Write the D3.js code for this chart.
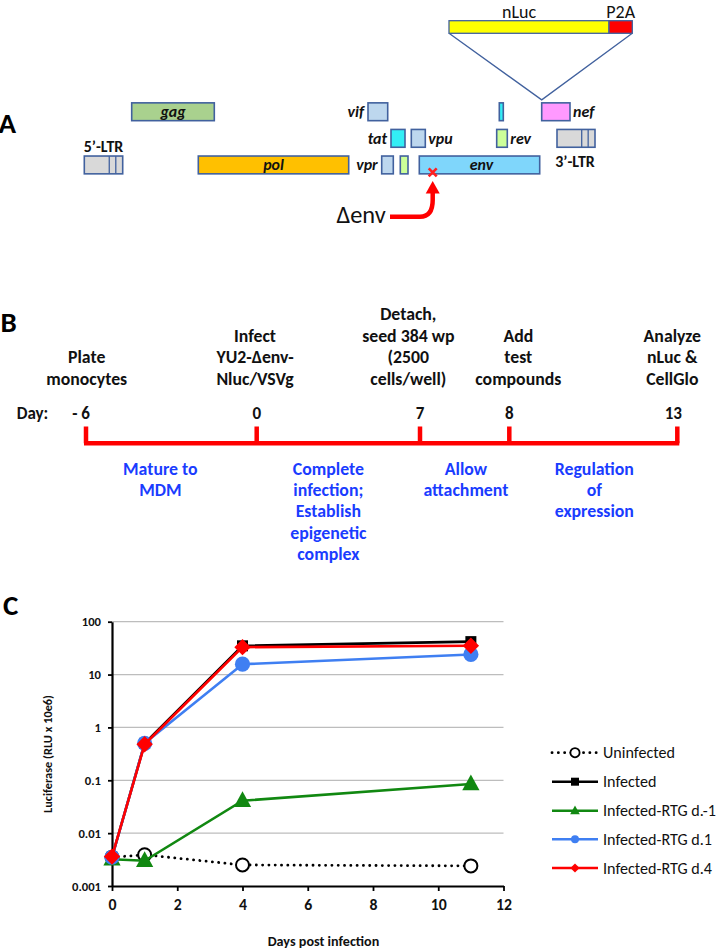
<!DOCTYPE html>
<html>
<head>
<meta charset="utf-8">
<script src="https://cdn.jsdelivr.net/npm/d3@7"></script>
<style>
html,body{margin:0;padding:0;background:#fff;}
svg{display:block;}
text{font-family:Carlito,Lato,"Open Sans",sans-serif;}
</style>
</head>
<body>
<svg id="fig" width="717" height="949"></svg>
<script>
// ---------------- DATA ----------------
// Panel A: schematic genome (schematic units)
const geneNames  = ["5\u2019-LTR","gag","pol","vif","vpr","tat","rev","vpu","env","tat2","rev2","nef","3\u2019-LTR"];
const geneStart  = [0, 47.4, 114, 283.7, 297.4, 306.7, 316, 327, 335, 415, 412.4, 457.4, 472.7];
const geneEnd    = [38.4, 130, 264.4, 303.4, 309, 320.7, 323.7, 341, 455.4, 419, 423, 485.7, 510.7];
const geneFrame  = [2, 0, 2, 0, 2, 1, 2, 1, 2, 0, 1, 0, 1];
const geneKind   = ["ltr","gag","pol","acc","acc","tat","rev","acc","env","tat","rev","nef","ltr"];
const insertNames = ["nLuc","P2A"];
const insertStart = [364.7, 524.7];
const insertEnd   = [524.7, 548];
// Panel B: timeline
const timelineDays   = [-6, 0, 7, 8, 13];
const timelineLabels = ["- 6","0","7","8","13"];
const eventText = [["Plate","monocytes"],["Infect","YU2-\u0394env-","Nluc/VSVg"],["Detach,","seed 384 wp","(2500","cells/well)"],["Add","test","compounds"],["Analyze","nLuc &","CellGlo"]];
const phaseFrom = [-6, 0, 7, 8];
const phaseTo   = [0, 7, 8, 13];
const phaseText = [["Mature to","MDM"],["Complete","infection;","Establish","epigenetic","complex"],["Allow","attachment"],["Regulation","of","expression"]];
// Panel C: luciferase time course
const days        = [0, 1, 4, 11];
const seriesNames = ["Uninfected","Infected","Infected-RTG d.-1","Infected-RTG d.1","Infected-RTG d.4"];
const uninfected  = [0.0035, 0.0039, 0.0025, 0.0024];
const infected    = [0.0035, 0.5, 35, 42];
const rtgDm1      = [0.0032, 0.003, 0.041, 0.085];
const rtgD1       = [0.0035, 0.5, 15.7, 24];
const rtgD4       = [0.0036, 0.48, 33, 35];
const yTicks = [0.001, 0.01, 0.1, 1, 10, 100];
const xTicks = [0, 2, 4, 6, 8, 10, 12];

// ---------------- DRAW ----------------
const svg = d3.select("#fig");
svg.append("rect").attr("width",717).attr("height",949).attr("fill","#fff");
const FONT = "Carlito,Lato,'Open Sans',sans-serif";
const boxStroke = "#41619e";

// font size that makes a reference string reach its width in the reference picture
function fit(str, target, weight, style){
  const t = svg.append("text").attr("font-family",FONT).attr("font-size",100)
    .attr("font-weight",weight||"normal").attr("font-style",style||"normal").text(str);
  const w = t.node().getComputedTextLength(); t.remove();
  return 100*target/w;
}
const fsPanel   = 29;
const fsGene    = fit("3\u2019-LTR", 39.5, "bold");
const fsGeneIt  = fit("vpu", 24.3, "bold", "italic");
const fsInsert  = fit("nLuc", 36.7);
const fsDelta   = fit("\u0394env", 49.3);
const fsEvent   = fit("seed 384 wp", 92.3, "bold");
const fsPhase   = fit("attachment", 85, "bold");
const fsDay     = fit("Day:", 31.6, "bold");
const fsLegend  = fit("Infected-RTG d.-1", 113);
const fsYTick   = fit("0.001", 29, "bold");
const fsXTick   = fit("10", 16, "bold");
const fsXTitle  = fit("Days post infection", 111.7, "bold");
const fsYTitle  = fit("Luciferase (RLU x 10e6)", 118, "bold");

// ===== Panel A =====
const A = svg.append("g");
A.append("text").attr("x",-1.5).attr("y",132.7).attr("font-size",fsPanel).attr("font-weight","bold").text("A");
const gx = d3.scaleLinear().domain([0,510.7]).range([84.3,595]);
const gy = d3.scaleBand().domain([0,1,2]).range([100.2,176.5]).paddingInner(0.33).paddingOuter(0.1);
const kindFill = {ltr:"#d9d9d9",gag:"#a9d18e",pol:"#ffc000",acc:"#bdd7ee",tat:"#33eef5",rev:"#ccff99",env:"#7fd6fb",nef:"#ff99ff"};
const genes = geneNames.map((n,i)=>({name:n,s:geneStart[i],e:geneEnd[i],f:geneFrame[i],k:geneKind[i]}));

// insert triangle lines
const ins = insertNames.map((n,i)=>({name:n,s:insertStart[i],e:insertEnd[i]}));
const nef = genes.find(g=>g.name==="nef");
const insTop = 20.7, insH = 12.6;
A.append("path")
  .attr("d",`M${gx(ins[0].s)},${insTop+insH} L${gx(nef.s)},${gy(nef.f)-3} L${gx(ins[1].e)},${insTop+insH}`)
  .attr("fill","none").attr("stroke",boxStroke).attr("stroke-width",1.3);
A.selectAll("rect.ins").data(ins).join("rect")
  .attr("x",d=>gx(d.s)).attr("width",d=>gx(d.e)-gx(d.s))
  .attr("y",insTop).attr("height",insH)
  .attr("fill",(d,i)=>i===0?"#ffff00":"#ff0000").attr("stroke",boxStroke).attr("stroke-width",1.3);
A.selectAll("text.ins").data(ins).join("text")
  .attr("x",d=>(gx(d.s)+gx(d.e))/2 + (d.name==="nLuc"?-10:0)).attr("y",17.5)
  .attr("text-anchor","middle").attr("font-size",fsInsert*0.93).attr("fill","#111").text(d=>d.name);

A.selectAll("rect.gene").data(genes).join("rect")
  .attr("x",d=>gx(d.s)).attr("width",d=>gx(d.e)-gx(d.s))
  .attr("y",d=>gy(d.f)).attr("height",gy.bandwidth())
  .attr("fill",d=>kindFill[d.k]).attr("stroke",boxStroke).attr("stroke-width",1.6);
// LTR subdivisions
genes.filter(d=>d.k==="ltr").forEach(d=>{
  const w = gx(d.e)-gx(d.s);
  [0.65,0.82].forEach(fr=>{
    A.append("line").attr("x1",gx(d.s)+w*fr).attr("x2",gx(d.s)+w*fr)
      .attr("y1",gy(d.f)).attr("y2",gy(d.f)+gy.bandwidth())
      .attr("stroke",boxStroke).attr("stroke-width",1.3);
  });
});
// gene labels
const labelPos = {"5\u2019-LTR":"above","3\u2019-LTR":"below",gag:"in",pol:"in",env:"in",vif:"left",tat:"left",vpr:"left",vpu:"right",rev2:"right",nef:"right"};
genes.forEach(d=>{
  const p = labelPos[d.name]; if(!p) return;
  const t = A.append("text").attr("font-weight","bold").attr("fill","#111")
    .attr("dominant-baseline","central");
  const cy = gy(d.f)+gy.bandwidth()/2;
  let txt = d.name==="rev2"?"rev":d.name;
  if(p==="in"){ t.attr("x",(gx(d.s)+gx(d.e))/2 + (d.name==="env"?2:0)).attr("y",cy).attr("text-anchor","middle").attr("font-style","italic").attr("font-size",fsGeneIt); }
  else if(p==="left"){ t.attr("x",gx(d.s)-4).attr("y",cy).attr("text-anchor","end").attr("font-style","italic").attr("font-size",fsGeneIt); }
  else if(p==="right"){ t.attr("x",gx(d.e)+3).attr("y",cy).attr("text-anchor","start").attr("font-style","italic").attr("font-size",fsGeneIt); }
  else if(p==="above"){ t.attr("x",(gx(d.s)+gx(d.e))/2).attr("y",gy(d.f)-10).attr("text-anchor","middle").attr("font-size",fsGene); }
  else { t.attr("x",(gx(d.s)+gx(d.e))/2 - 1).attr("y",gy(d.f)+gy.bandwidth()+14).attr("text-anchor","middle").attr("font-size",fsGene); }
  t.text(txt);
});
// delta env mark
const env = genes.find(g=>g.name==="env");
const mx = gx(env.s)+13.4, myy = gy(env.f)+gy.bandwidth()-1.5;
A.append("path").attr("d",`M${mx-4},${myy-4} L${mx+4},${myy+4} M${mx+4},${myy-4} L${mx-4},${myy+4}`)
  .attr("stroke","#ff2020").attr("stroke-width",2.6).attr("fill","none");
A.append("path").attr("d",`M390,216.7 L420,216.7 Q${mx},216.7 ${mx},200 L${mx},192`)
  .attr("stroke","#ff0000").attr("stroke-width",4.5).attr("fill","none");
A.append("path").attr("d",`M${mx-7},193.5 L${mx+7},193.5 L${mx},181 Z`).attr("fill","#ff0000");
A.append("text").attr("x",336.5).attr("y",214.5).attr("dominant-baseline","central")
  .attr("font-size",fsDelta).attr("fill","#111").text("\u0394env");

// ===== Panel B =====
const B = svg.append("g");
B.append("text").attr("x",0.5).attr("y",331.7).attr("font-size",fsPanel).attr("font-weight","bold").text("B");
const tx = d3.scaleLinear().domain(timelineDays).range([86,256.7,420,509.3,677.3]);
const lineY = 443.3, tickTop = 426.5;
const red = "#ff0000";
B.append("line").attr("x1",tx(-6)-2).attr("x2",tx(13)+2).attr("y1",lineY).attr("y2",lineY)
  .attr("stroke",red).attr("stroke-width",4.5);
B.selectAll("line.tk").data(timelineDays).join("line")
  .attr("x1",d=>tx(d)).attr("x2",d=>tx(d)).attr("y1",tickTop).attr("y2",lineY)
  .attr("stroke",red).attr("stroke-width",4.5);
B.append("text").attr("x",32.5).attr("y",413.5).attr("text-anchor","middle").attr("dominant-baseline","central")
  .attr("font-size",fsDay).attr("font-weight","bold").attr("fill","#111").text("Day:");
B.selectAll("text.day").data(timelineDays).join("text")
  .attr("x",(d,i)=>i===0?tx(d)+4:tx(d)-(i===4?4:0)).attr("y",413.5)
  .attr("text-anchor",(d,i)=>i===0?"end":"middle").attr("dominant-baseline","central")
  .attr("font-size",fsDay).attr("font-weight","bold").attr("fill","#111")
  .text((d,i)=>timelineLabels[i]);
const lineGap = 21.6;
const evDx = [0.7,-1.7,-11.7,9,-5];
eventText.forEach((lines,i)=>{
  const n = lines.length;
  lines.forEach((l,j)=>{
    B.append("text").attr("x",tx(timelineDays[i])+evDx[i]).attr("y",378.7-(n-1-j)*lineGap)
      .attr("text-anchor","middle").attr("dominant-baseline","central")
      .attr("font-size",fsEvent).attr("font-weight","bold").attr("fill","#111").text(l);
  });
});
const phDx = [-11,-10,1.3,1];
phaseText.forEach((lines,i)=>{
  const cx = (tx(phaseFrom[i])+tx(phaseTo[i]))/2 + phDx[i];
  lines.forEach((l,j)=>{
    B.append("text").attr("x",cx).attr("y",469+j*21.2)
      .attr("text-anchor","middle").attr("dominant-baseline","central")
      .attr("font-size",fsPhase).attr("font-weight","bold").attr("fill","#1a3cff").text(l);
  });
});

// ===== Panel C =====
const C = svg.append("g");
C.append("text").attr("x",3).attr("y",615).attr("font-size",fsPanel).attr("font-weight","bold").text("C");
const x = d3.scaleLinear().domain([0,12]).range([112,503.5]);
const y = d3.scaleLog().domain([0.001,100]).range([886,621.7]);
// gridlines
C.selectAll("line.grid").data(yTicks.slice(1)).join("line")
  .attr("x1",x(0)).attr("x2",x(12)).attr("y1",d=>y(d)).attr("y2",d=>y(d))
  .attr("stroke","#bdbdbd").attr("stroke-width",1.2);
// axes
const yAxis = C.append("g").attr("transform",`translate(${x(0)},0)`)
  .call(d3.axisLeft(y).tickValues(yTicks).tickFormat(d=>String(d)).tickSize(4).tickSizeOuter(0));
yAxis.select(".domain").attr("stroke","#000").attr("stroke-width",2.2);
yAxis.selectAll(".tick line").attr("stroke","#000").attr("stroke-width",1.8);
yAxis.selectAll(".tick text").attr("font-family",FONT).attr("font-size",fsYTick).attr("font-weight","bold").attr("fill","#111").attr("x",-11);
const xAxis = C.append("g").attr("transform",`translate(0,${y(0.001)})`)
  .call(d3.axisBottom(x).tickValues(xTicks).tickSize(5).tickSizeOuter(0));
xAxis.select(".domain").attr("stroke","#000").attr("stroke-width",2.2);
xAxis.selectAll(".tick line").attr("stroke","#000").attr("stroke-width",1.8);
xAxis.selectAll(".tick text").attr("font-family",FONT).attr("font-size",fsXTick).attr("font-weight","bold").attr("fill","#111").attr("y",13);
C.append("text").attr("x",323.5).attr("y",941).attr("text-anchor","middle").attr("dominant-baseline","central")
  .attr("font-size",fsXTitle).attr("font-weight","bold").attr("fill","#111").text("Days post infection");
C.append("text").attr("transform","translate(47.7,754) rotate(-90)").attr("text-anchor","middle").attr("dominant-baseline","central")
  .attr("font-size",fsYTitle).attr("font-weight","bold").attr("fill","#111").text("Luciferase (RLU x 10e6)");

const colors = ["#000000","#000000","#118811","#3f7ff2","#ff0000"];
const dashes = ["0.1,6.2",null,null,null,null];
const allSeries = [uninfected, infected, rtgDm1, rtgD1, rtgD4];
const shapes = ["ocircle","square","triangle","circle","diamond"];
function markerPath(shape, s){
  if(shape==="square") return `M${-s},${-s}h${2*s}v${2*s}h${-2*s}Z`;
  if(shape==="triangle") return `M0,${-s*1.15} L${s*1.05},${s*0.75} L${-s*1.05},${s*0.75}Z`;
  if(shape==="diamond") return `M0,${-s} L${s},0 L0,${s} L${-s},0Z`;
  return d3.arc()({innerRadius:0,outerRadius:s,startAngle:0,endAngle:2*Math.PI});
}
const plotSize = [6.5,5.5,8.2,7.6,8.2];
const line = d3.line().x((d,i)=>x(days[i])).y(d=>y(d));
allSeries.forEach((vals,si)=>{
  const g = C.append("g");
  g.append("path").attr("d",line(vals)).attr("fill","none").attr("stroke",colors[si])
    .attr("stroke-width",si===0?2.8:2.6).attr("stroke-dasharray",dashes[si]).attr("stroke-linecap",si===0?"round":"butt");
  g.selectAll("path.m").data(vals).join("path")
    .attr("transform",(d,i)=>`translate(${x(days[i])},${y(d)})`)
    .attr("d",markerPath(shapes[si],plotSize[si]))
    .attr("fill",si===0?"#fff":colors[si]).attr("stroke",si===0?"#000":"none").attr("stroke-width",2);
});
// legend
const legY = [752.7,781.7,810.7,839.3,868];
const legSize = [4.6,4,4.6,4,4.6];
seriesNames.forEach((n,si)=>{
  const g = C.append("g").attr("transform",`translate(0,${legY[si]})`);
  g.append("line").attr("x1",552).attr("x2",598).attr("y1",0).attr("y2",0)
    .attr("stroke",colors[si]).attr("stroke-width",si===0?2.8:2.6)
    .attr("stroke-dasharray",dashes[si]).attr("stroke-linecap",si===0?"round":"butt");
  g.append("path").attr("transform","translate(575,0)").attr("d",markerPath(shapes[si],legSize[si]))
    .attr("fill",si===0?"#fff":colors[si]).attr("stroke",si===0?"#000":"none").attr("stroke-width",1.8);
  g.append("text").attr("x",603).attr("y",0).attr("dominant-baseline","central")
    .attr("font-size",fsLegend).attr("fill","#111").text(n);
});
</script>
</body>
</html>
